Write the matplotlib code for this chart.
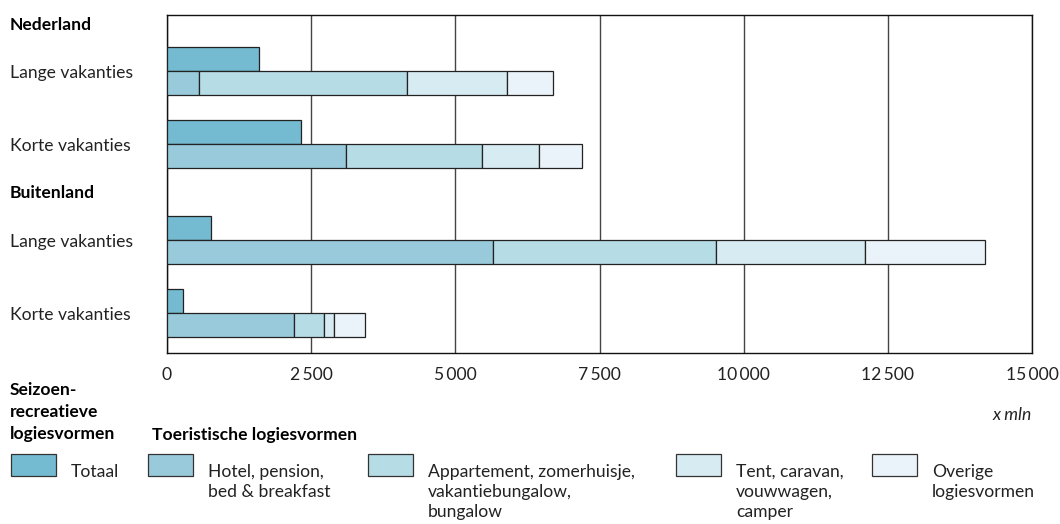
import matplotlib
matplotlib.use('Agg')
import matplotlib.pyplot as plt
from matplotlib.patches import Rectangle
from matplotlib.transforms import blended_transform_factory
import numpy as np

# data (x mln)
rows = ['Lange vakanties', 'Korte vakanties', 'Lange vakanties', 'Korte vakanties']
groups = ['Nederland', 'Buitenland']
totaal = [1600, 2320, 760, 285]
hotel = [550, 3110, 5660, 2200]
appartement = [3615, 2352, 3863, 517]
tent = [1735, 993, 2581, 185]
overige = [790, 745, 2074, 532]
xticks = [0, 2500, 5000, 7500, 10000, 12500, 15000]

legend_labels = ['Totaal', 'Hotel, pension,\nbed & breakfast',
                 'Appartement, zomerhuisje,\nvakantiebungalow,\nbungalow',
                 'Tent, caravan,\nvouwwagen,\ncamper', 'Overige\nlogiesvormen']
colors = ['#74bad0', '#98cadc', '#b6dce6', '#d7ebf2', '#eaf3f9']

plt.rcParams['font.family'] = ['Lato', 'DejaVu Sans']
fs = 12.6

W, H = 1060, 524
fig = plt.figure(figsize=(W / 100, H / 100), dpi=100)
ax = fig.add_axes([167 / W, (H - 353) / H, 865 / W, 338 / H])

pos = np.array([0, 1, 2.33, 3.33])
h = 0.331
ax.barh(pos - h, totaal, height=h, align='edge', color=colors[0],
        edgecolor='#222222', linewidth=0.9, zorder=3)
left = np.zeros(4)
for vals, c in zip([hotel, appartement, tent, overige], colors[1:]):
    ax.barh(pos, vals, height=h, left=left, align='edge', color=c,
            edgecolor='#222222', linewidth=0.9, zorder=3)
    left = left + np.array(vals)

ax.set_xlim(0, 15000)
ax.set_ylim(3.33 + 0.556, -0.772)
ax.set_xticks(xticks)
ax.set_xticklabels([f'{t:,}'.replace(',', '\u2009') if t else '0' for t in xticks],
                   fontsize=fs, color='#222222', family=['Lato', 'DejaVu Sans'])
ax.tick_params(axis='x', length=0, pad=10)
ax.set_yticks([])
ax.grid(axis='x', color='#444444', linewidth=1.0, zorder=0)
for s in ax.spines.values():
    s.set_color('#111111')
    s.set_linewidth(1.0)

# row labels
tr = blended_transform_factory(fig.transFigure, ax.transData)
for p, r in zip(pos, rows):
    ax.text(10 / W, p + 0.03, r, transform=tr, va='center', ha='left',
            fontsize=fs, color='#222222')
ax.text(10 / W, -0.634, groups[0], transform=tr, va='center', ha='left',
        fontsize=fs, fontweight='bold')
ax.text(10 / W, 1.683, groups[1], transform=tr, va='center', ha='left',
        fontsize=fs, fontweight='bold')

fig.text(1032 / W, 1 - 415 / H, 'x mln', ha='right', va='center',
         fontsize=fs, style='italic', color='#222222')

# legend
fig.text(10 / W, 1 - 382 / H, 'Seizoen-\nrecreatieve\nlogiesvormen', ha='left',
         va='top', fontsize=fs, fontweight='bold', linespacing=1.45)
fig.text(152 / W, 1 - 435 / H, 'Toeristische logiesvormen', ha='left',
         va='center', fontsize=fs, fontweight='bold')

box_x = [11, 148, 368, 676, 872]
for bx, c, lab in zip(box_x, colors, legend_labels):
    fig.patches.append(Rectangle((bx / W, 1 - 476 / H), 45 / W, 22 / H,
                                 transform=fig.transFigure, facecolor=c,
                                 edgecolor='#333333', linewidth=0.9))
    fig.text((bx + 60) / W, 1 - 464 / H, lab, ha='left', va='top',
             fontsize=fs, linespacing=1.3, color='#222222')

fig.savefig('out.png', dpi=100)
